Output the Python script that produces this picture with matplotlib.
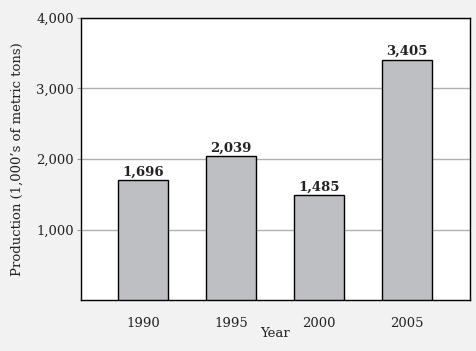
import matplotlib.pyplot as plt
import numpy as np

years = ["1990", "1995", "2000", "2005"]
production = [1696, 2039, 1485, 3405]
y_ticks = [1000, 2000, 3000, 4000]
y_tick_labels = ["1,000", "2,000", "3,000", "4,000"]

plt.rcParams["font.family"] = ["DejaVu Serif"]

fig = plt.figure(figsize=(4.77, 3.51), dpi=100, facecolor="#f2f2f2")
ax = fig.add_axes([81 / 477, 1 - 300 / 351, 389 / 477, 282 / 351])
ax.set_facecolor("white")

x = np.arange(len(years))
bars = ax.bar(x, production, width=0.57, color="#bebfc3",
              edgecolor="black", linewidth=1.0, zorder=3)

for xi, v in zip(x, production):
    ax.text(xi, v + 25, f"{v:,}", ha="center", va="bottom",
            fontsize=9.5, fontweight="bold", color="#222222")

ax.set_xlim(-0.705, 3.716)
ax.set_ylim(0, 4000)
ax.set_xticks(x)
ax.set_xticklabels(years, fontsize=9.5)
ax.set_yticks(y_ticks)
ax.set_yticklabels(y_tick_labels, fontsize=9.5)
ax.tick_params(axis="x", length=0, pad=12, colors="#222222")
ax.tick_params(axis="y", length=3, pad=2, colors="#222222", color="#999999")
ax.yaxis.grid(True, color="#b0b0b0", linewidth=1.0, zorder=0)
ax.set_axisbelow(True)

for s in ax.spines.values():
    s.set_color("black")
    s.set_linewidth(1.0)

ax.set_xlabel("Year", fontsize=9.5, color="#222222", labelpad=-2)
ax.set_ylabel("Production (1,000\u2019s of metric tons)", fontsize=9.5,
              color="#222222", labelpad=9)

fig.savefig("out.png", dpi=100, facecolor=fig.get_facecolor())
